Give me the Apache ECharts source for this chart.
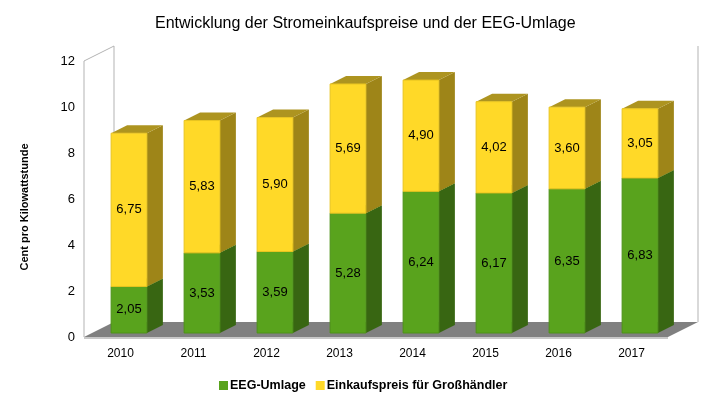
<!DOCTYPE html>
<html>
<head>
<meta charset="utf-8">
<script src="https://cdn.jsdelivr.net/npm/echarts@6/dist/echarts.min.js"></script>
<style>html,body{margin:0;padding:0;background:#fff;}#c{width:705px;height:397px;}</style>
</head>
<body>
<div id="c"></div>
<script>
const years = ['2010', '2011', '2012', '2013', '2014', '2015', '2016', '2017'];
const eegUmlage = [2.05, 3.53, 3.59, 5.28, 6.24, 6.17, 6.35, 6.83];
const einkaufspreis = [6.75, 5.83, 5.90, 5.69, 4.90, 4.02, 3.60, 3.05];
const yMin = 0, yMax = 12, yInterval = 2;

const fmt = v => v.toFixed(2).replace('.', ',');

function boxRenderer(colors) {
  return function (params, api) {
    const idx = api.value(0), lo = api.value(1), hi = api.value(2), lbl = api.value(3);
    const base = api.coord([idx, 0]);
    const band = api.size([1, 0])[0];
    const scale = 0.987;
    const shiftX = 8.5, shiftY = -4;
    const yLo = base[1] + (api.coord([idx, lo])[1] - base[1]) * scale + shiftY;
    const yHi = base[1] + (api.coord([idx, hi])[1] - base[1]) * scale + shiftY;
    const w = band * 0.49;
    const x0 = base[0] + shiftX - w / 2, x1 = x0 + w;
    const dx = 16, dy = -8;
    return {
      type: 'group',
      children: [
        { type: 'polygon', shape: { points: [[x1, yLo], [x1 + dx, yLo + dy], [x1 + dx, yHi + dy], [x1, yHi]] },
          style: { fill: colors.side } },
        { type: 'polygon', shape: { points: [[x0, yHi], [x1, yHi], [x1 + dx, yHi + dy], [x0 + dx, yHi + dy]] },
          style: { fill: colors.top } },
        { type: 'rect', shape: { x: x0, y: yHi, width: w, height: yLo - yHi },
          style: { fill: colors.front, stroke: colors.edge, lineWidth: 1 } },
        { type: 'text', x: (x0 + x1) / 2, y: (yLo + yHi) / 2,
          style: { text: fmt(lbl), fill: '#000', font: '13px "Liberation Sans", Arial, sans-serif',
                   align: 'center', verticalAlign: 'middle' } }
      ]
    };
  };
}

function decorRenderer(params, api) {
  const cs = params.coordSys;
  const x0 = cs.x, y0 = cs.y, w = cs.width, h = cs.height;
  const dx = 30, dy = -15;
  const yb = y0 + h;
  const wallColor = '#b3b3b3';
  return {
    type: 'group',
    children: [
      { type: 'polygon', shape: { points: [[x0, yb], [x0 + dx, yb + dy], [x0 + w + dx, yb + dy], [x0 + w, yb]] },
        style: { fill: '#808080' } },
      { type: 'line', shape: { x1: x0, y1: yb + 1, x2: x0 + w, y2: yb + 1 }, style: { stroke: '#c8c8c8', lineWidth: 2 } },
      { type: 'polyline', shape: { points: [[x0, yb], [x0, y0], [x0 + dx, y0 + dy], [x0 + dx, yb + dy]] },
        style: { stroke: wallColor, lineWidth: 1, fill: null } },
      { type: 'line', shape: { x1: x0 + w + dx, y1: y0 + dy, x2: x0 + w + dx, y2: yb + dy },
        style: { stroke: wallColor, lineWidth: 1 } }
    ]
  };
}

const green = { front: '#59a31d', side: '#386612', top: '#4a8418', edge: '#4e9218' };
const yellow = { front: '#ffd928', side: '#9e8518', top: '#ad9420', edge: '#e8c420' };

const chart = echarts.init(document.getElementById('c'), null, { renderer: 'canvas' });
chart.setOption({
  animation: false,
  backgroundColor: '#fff',
  textStyle: { fontFamily: '"Liberation Sans", Arial, sans-serif' },
  title: {
    text: 'Entwicklung der Stromeinkaufspreise und der EEG-Umlage',
    left: 150, top: 11,
    textStyle: { fontSize: 16, fontWeight: 'normal', color: '#000', fontFamily: '"Liberation Sans", Arial, sans-serif' }
  },
  legend: {
    data: [
      { name: 'EEG-Umlage', itemStyle: { color: green.front } },
      { name: 'Einkaufspreis für Großhändler', itemStyle: { color: yellow.front } }
    ],
    left: 214, top: 374,
    icon: 'rect', itemWidth: 9, itemHeight: 9, itemGap: 10,
    textStyle: { fontSize: 12.5, fontWeight: 'bold', color: '#000', padding: [0, 0, 0, -3] }
  },
  grid: { left: 84, top: 61, width: 584, height: 276, containLabel: false },
  xAxis: {
    type: 'category', data: years,
    axisLine: { show: false }, axisTick: { show: false },
    axisLabel: { margin: 11, fontSize: 12, color: '#000' }
  },
  yAxis: {
    type: 'value', min: yMin, max: yMax, interval: yInterval,
    name: 'Cent pro Kilowattstunde', nameLocation: 'middle', nameGap: 54,
    nameTextStyle: { fontSize: 11, fontWeight: 'bold', color: '#000', padding: [0, 16, 0, 0] },
    axisLine: { show: false }, axisTick: { show: false }, splitLine: { show: false },
    axisLabel: { margin: 9, fontSize: 13, color: '#000' }
  },
  series: [
    { type: 'custom', name: 'decor', silent: true, z: 1, data: [[0]], renderItem: decorRenderer, encode: { x: -1, y: -1 } },
    { type: 'custom', name: 'EEG-Umlage', z: 2, itemStyle: { color: green.front },
      data: years.map((_, i) => [i, 0, eegUmlage[i], eegUmlage[i]]),
      renderItem: boxRenderer(green), encode: { x: 0, y: [1, 2] } },
    { type: 'custom', name: 'Einkaufspreis für Großhändler', z: 3, itemStyle: { color: yellow.front },
      data: years.map((_, i) => [i, eegUmlage[i], eegUmlage[i] + einkaufspreis[i], einkaufspreis[i]]),
      renderItem: boxRenderer(yellow), encode: { x: 0, y: [1, 2] } }
  ]
});
</script>
</body>
</html>
